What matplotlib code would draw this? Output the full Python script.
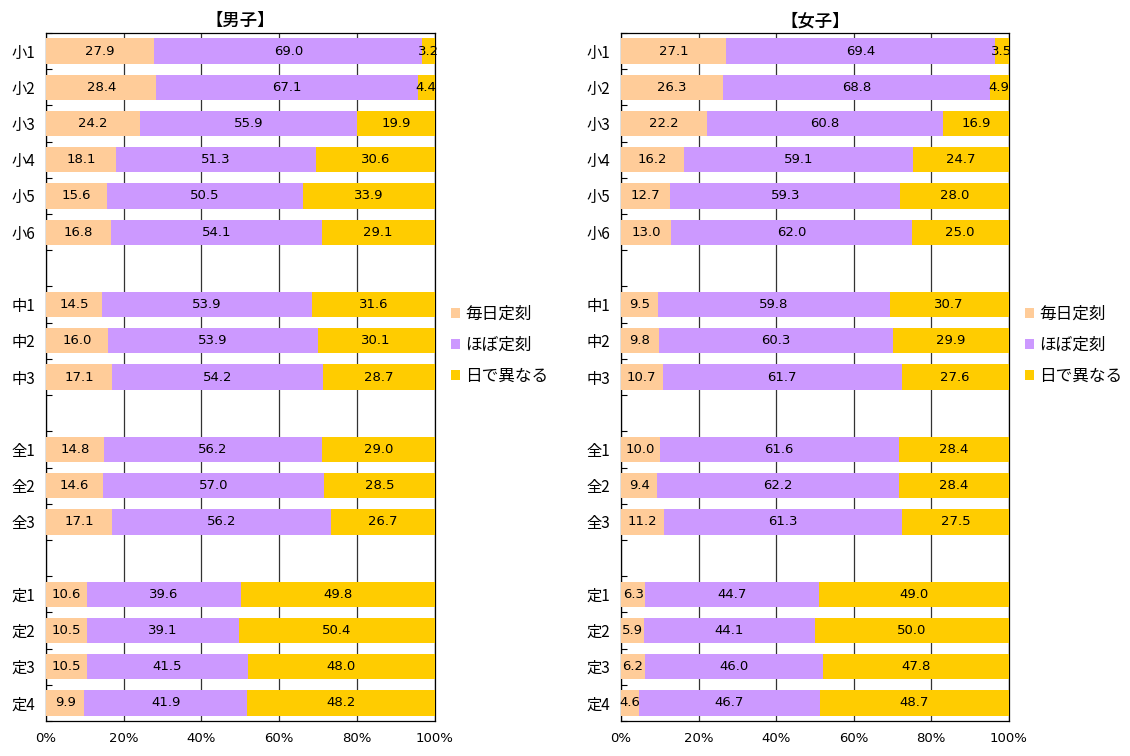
import numpy as np
import matplotlib.pyplot as plt
from matplotlib.patches import Patch

plt.rcParams['font.family'] = ['Noto Sans CJK JP', 'DejaVu Sans']

# カテゴリ (None = 空行)
kategorije = ['小1', '小2', '小3', '小4', '小5', '小6', None,
              '中1', '中2', '中3', None,
              '全1', '全2', '全3', None,
              '定1', '定2', '定3', '定4']
serije = ['毎日定刻', 'ほぼ定刻', '日で異なる']
boje = ['#FFCC99', '#CC99FF', '#FFCC00']

# 男子
muski_1 = [27.9, 28.4, 24.2, 18.1, 15.6, 16.8, 14.5, 16.0, 17.1, 14.8, 14.6, 17.1, 10.6, 10.5, 10.5, 9.9]
muski_2 = [69.0, 67.1, 55.9, 51.3, 50.5, 54.1, 53.9, 53.9, 54.2, 56.2, 57.0, 56.2, 39.6, 39.1, 41.5, 41.9]
muski_3 = [3.2, 4.4, 19.9, 30.6, 33.9, 29.1, 31.6, 30.1, 28.7, 29.0, 28.5, 26.7, 49.8, 50.4, 48.0, 48.2]

# 女子
zenski_1 = [27.1, 26.3, 22.2, 16.2, 12.7, 13.0, 9.5, 9.8, 10.7, 10.0, 9.4, 11.2, 6.3, 5.9, 6.2, 4.6]
zenski_2 = [69.4, 68.8, 60.8, 59.1, 59.3, 62.0, 59.8, 60.3, 61.7, 61.6, 62.2, 61.3, 44.7, 44.1, 46.0, 46.7]
zenski_3 = [3.5, 4.9, 16.9, 24.7, 28.0, 25.0, 30.7, 29.9, 27.6, 28.4, 28.4, 27.5, 49.0, 50.0, 47.8, 48.7]

x_ticks = [0, 20, 40, 60, 80, 100]

fig = plt.figure(figsize=(11.3, 7.56), dpi=100)

pozicije = [i for i, k in enumerate(kategorije) if k is not None]
oznake = [k for k in kategorije if k is not None]


def crtaj(ax, naslov, podaci):
    podaci = np.array(podaci, dtype=float)
    ukupno = podaci.sum(axis=0)
    udio = podaci / ukupno * 100
    lijevo = np.zeros(len(pozicije))
    for s in range(3):
        ax.barh(pozicije, udio[s], left=lijevo, height=0.7, color=boje[s],
                zorder=3, label=serije[s])
        for p, l, w, v in zip(pozicije, lijevo, udio[s], podaci[s]):
            ax.text(l + w / 2, p, f'{v:.1f}', ha='center', va='center',
                    fontsize=9.5, zorder=4, family=['DejaVu Sans'])
        lijevo += udio[s]
    ax.set_xlim(0, 100)
    ax.set_ylim(len(kategorije) - 0.5, -0.5)
    ax.set_yticks(pozicije)
    ax.set_yticklabels(oznake, fontsize=11)
    ax.set_yticks(np.arange(-0.5, len(kategorije), 1), minor=True)
    ax.tick_params(axis='y', which='major', length=0, pad=8)
    ax.tick_params(axis='y', which='minor', direction='in', length=4, width=0.8)
    ax.set_xticks(x_ticks)
    ax.set_xticklabels([f'{t}%' for t in x_ticks], fontsize=9.5,
                       family=['DejaVu Sans'])
    ax.tick_params(axis='x', length=0, pad=8)
    ax.grid(axis='x', color='#333333', linewidth=0.9, zorder=0)
    for sp in ax.spines.values():
        sp.set_color('black')
        sp.set_linewidth(0.9)
    ax.set_title(naslov, fontsize=12.5, pad=5, fontweight='medium')


ax1 = fig.add_axes([0.0407, 0.0463, 0.344, 0.910])
crtaj(ax1, '【男子】', [muski_1, muski_2, muski_3])

ax2 = fig.add_axes([0.5496, 0.0463, 0.343, 0.910])
crtaj(ax2, '【女子】', [zenski_1, zenski_2, zenski_3])

rucke = [Patch(facecolor=b, edgecolor='none') for b in boje]
for xl in [0.389, 0.897]:
    fig.legend(rucke, serije, loc='center left', bbox_to_anchor=(xl, 0.543),
               frameon=False, fontsize=12, handlelength=0.55, handleheight=0.55,
               handletextpad=0.3, labelspacing=0.85, borderpad=0.2)

fig.savefig('out.png', dpi=100)
